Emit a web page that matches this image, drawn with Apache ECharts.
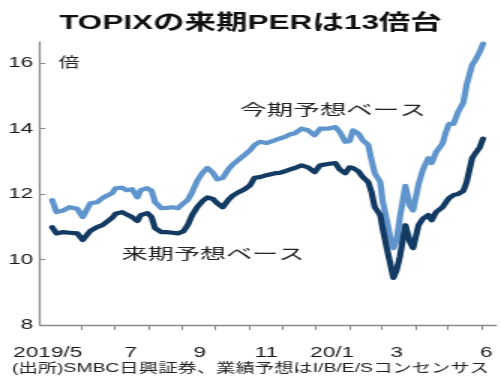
<!DOCTYPE html>
<html>
<head>
<meta charset="utf-8">
<script src="https://cdn.jsdelivr.net/npm/echarts@6/dist/echarts.min.js"></script>
<style>
  html, body { margin: 0; padding: 0; background: #fff; overflow: hidden; }
  #wrap { width: 501px; height: 383px; overflow: hidden; }
  #chart { width: 334px; height: 383px; transform: scaleX(1.5); transform-origin: 0 0; }
</style>
</head>
<body>
<div id="wrap"><div id="chart"></div></div>
<script>
// ---- data ----
const dates = [
  '2019-05-05','2019-05-09','2019-05-15','2019-05-21','2019-05-28','2019-06-02','2019-06-09','2019-06-15',
  '2019-06-20','2019-06-24','2019-06-29','2019-07-02','2019-07-08','2019-07-12','2019-07-17','2019-07-22',
  '2019-07-25','2019-07-31','2019-08-04','2019-08-07','2019-08-13','2019-08-18','2019-08-23','2019-08-28',
  '2019-09-02','2019-09-06','2019-09-10','2019-09-15','2019-09-20','2019-09-24','2019-09-29','2019-10-03',
  '2019-10-08','2019-10-13','2019-10-17','2019-10-22','2019-10-28','2019-11-02','2019-11-06','2019-11-11',
  '2019-11-17','2019-11-25','2019-11-29','2019-12-04','2019-12-08','2019-12-13','2019-12-19','2019-12-25',
  '2019-12-31','2020-01-05','2020-01-12','2020-01-19','2020-01-23','2020-01-28','2020-02-01','2020-02-04',
  '2020-02-09','2020-02-13','2020-02-18','2020-02-21','2020-02-24','2020-02-29','2020-03-02','2020-03-06',
  '2020-03-09','2020-03-12','2020-03-15','2020-03-18','2020-03-23','2020-03-27','2020-03-30','2020-04-04',
  '2020-04-08','2020-04-13','2020-04-16','2020-04-20','2020-04-26','2020-04-29','2020-05-02','2020-05-06',
  '2020-05-10','2020-05-15','2020-05-18','2020-05-23','2020-05-26','2020-05-30','2020-06-02'
];
// 今期予想ベース (light blue)
const konkiPER = [
  11.82,11.45,11.50,11.60,11.55,11.30,11.72,11.75,
  11.88,11.95,12.03,12.18,12.20,12.12,12.15,11.90,
  12.12,12.18,12.10,11.76,11.57,11.58,11.60,11.57,
  11.72,11.82,12.06,12.43,12.67,12.80,12.65,12.45,
  12.50,12.75,12.90,13.04,13.20,13.34,13.50,13.60,
  13.56,13.65,13.70,13.75,13.82,13.86,14.00,13.95,
  13.80,14.00,14.00,14.05,13.90,13.60,13.62,13.95,
  13.85,13.65,13.50,13.04,12.64,12.37,11.82,11.20,
  10.70,10.35,10.60,11.30,12.25,11.65,11.50,12.30,
  12.75,13.10,12.95,13.28,13.55,13.90,14.15,14.15,
  14.50,14.80,15.35,15.95,16.10,16.35,16.60
];
// 来期予想ベース (dark navy)
const raikiPER = [
  10.99,10.80,10.84,10.82,10.80,10.60,10.88,10.99,
  11.05,11.15,11.28,11.40,11.45,11.38,11.30,11.18,
  11.36,11.42,11.30,10.96,10.84,10.84,10.82,10.80,
  10.86,11.05,11.36,11.62,11.80,11.90,11.85,11.72,
  11.60,11.82,11.95,12.05,12.15,12.27,12.50,12.52,
  12.58,12.64,12.65,12.70,12.75,12.80,12.88,12.82,
  12.67,12.88,12.92,12.95,12.75,12.64,12.82,12.80,
  12.70,12.52,12.37,12.06,11.60,11.36,10.99,10.35,
  9.90,9.44,9.68,10.10,11.05,10.55,10.35,11.05,
  11.25,11.36,11.20,11.45,11.60,11.75,11.88,11.97,
  12.00,12.10,12.37,13.10,13.25,13.43,13.70
];
const xTickLabels = ['2019/5','7','9','11','20/1','3','6'];
const xTickLabelDates = ['2019-05-01','2019-07-16','2019-09-17','2019-11-17','2020-01-16','2020-03-15','2020-06-05'];
const monthTickDates = ['2019-06-01','2019-07-01','2019-08-01','2019-09-01','2019-10-01','2019-11-01','2019-12-01',
  '2020-01-01','2020-02-01','2020-03-01','2020-04-01','2020-05-01','2020-06-01'];
const xRange = ['2019-04-24', '2020-06-14'];
const titleText = 'TOPIXの来期PERは13倍台';
const unitText = '倍';
const konkiLabel = '今期予想ベース';
const raikiLabel = '来期予想ベース';
const sourceText = '(出所)SMBC日興証券、業績予想はI/B/E/Sコンセンサス';

// ---- chart ----
const FONT = "'Liberation Sans', 'Noto Sans CJK JP', sans-serif";
const ts = s => { const p = s.split('-').map(Number); return Date.UTC(p[0], p[1] - 1, p[2]); };
const labelStamps = xTickLabelDates.map(ts);
function xLabelFor(v) {
  let best = 0, bd = Infinity;
  labelStamps.forEach((t, i) => { const d = Math.abs(t - v); if (d < bd) { bd = d; best = i; } });
  return bd < 3 * 86400000 ? xTickLabels[best] : '';
}

const chart = echarts.init(document.getElementById('chart'), null, { renderer: 'canvas' });
chart.setOption({
  animation: false,
  backgroundColor: '#ffffff',
  grid: { left: 26.7, right: 3.2, top: 42, bottom: 58, containLabel: false },
  xAxis: {
    type: 'value',
    min: ts(xRange[0]),
    max: ts(xRange[1]),
    axisLine: { show: true, onZero: false, lineStyle: { color: '#8a8a8a', width: 1.3 } },
    axisTick: { show: true, inside: false, length: 5, lineStyle: { color: '#8a8a8a', width: 1 }, customValues: monthTickDates.map(ts) },
    axisLabel: {
      show: true, margin: 20, color: '#1a1a1a', fontSize: 15, fontFamily: FONT,
      customValues: labelStamps,
      formatter: v => xLabelFor(v),
      hideOverlap: false
    },
    splitLine: { show: false }
  },
  yAxis: {
    type: 'value',
    min: 8, max: 16.65, interval: 2,
    axisLine: { show: true, onZero: false, lineStyle: { color: '#8a8a8a', width: 1.3 } },
    axisTick: { show: true, inside: true, length: 3.5, lineStyle: { color: '#8a8a8a', width: 1 } },
    axisLabel: {
      margin: 4.5, color: '#1a1a1a', fontSize: 15, fontFamily: FONT,
      showMaxLabel: false,
      formatter: v => (Math.abs(v % 2) < 1e-9 ? String(v) : '')
    },
    splitLine: { show: false }
  },
  series: [
    {
      name: konkiLabel, type: 'line', showSymbol: false, smooth: false,
      data: dates.map((d, i) => [ts(d), konkiPER[i]]),
      lineStyle: { color: '#5f95cc', width: 4.2, join: 'round', cap: 'round' },
      z: 2
    },
    {
      name: raikiLabel, type: 'line', showSymbol: false, smooth: false,
      data: dates.map((d, i) => [ts(d), raikiPER[i]]),
      lineStyle: { color: '#123a62', width: 4.2, join: 'round', cap: 'round' },
      z: 3
    }
  ],
  graphic: [
    { type: 'text', x: 167, y: 23, style: { text: titleText, align: 'center', verticalAlign: 'middle',
      font: "bold 21px " + FONT, fill: '#111' } },
    { type: 'text', x: 46, y: 63, style: { text: unitText, align: 'center', verticalAlign: 'middle',
      font: "14px " + FONT, fill: '#222' } },
    { type: 'text', x: 222, y: 111, scaleX: 1.18, style: { text: konkiLabel, align: 'center', verticalAlign: 'middle',
      font: "15px " + FONT, fill: '#222' } },
    { type: 'text', x: 142, y: 255, scaleX: 1.16, style: { text: raikiLabel, align: 'center', verticalAlign: 'middle',
      font: "15px " + FONT, fill: '#222' } },
    { type: 'text', x: 8, y: 368, style: { text: sourceText, align: 'left', verticalAlign: 'middle',
      font: "12.9px " + FONT, fill: '#222' } }
  ]
});
</script>
</body>
</html>
